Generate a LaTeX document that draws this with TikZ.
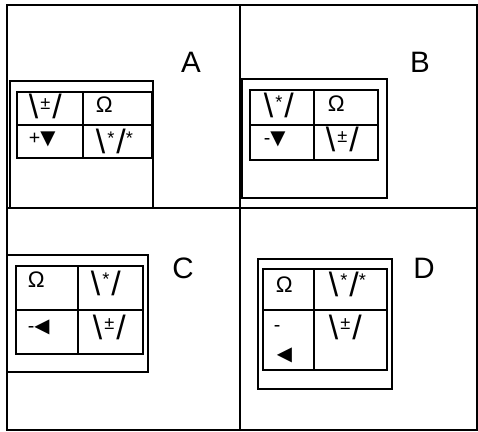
\documentclass[tikz,border=0pt]{standalone}
\usepackage{fontspec}
\setmainfont{Liberation Sans}
\newfontfamily\symfont{DejaVu Sans}
\newcommand{\wedgesym}[1]{{\fontsize{24}{24}\selectfont\textbackslash}\kern1.5pt\raisebox{6.5pt}{\fontsize{13}{13}\selectfont#1}\kern1.5pt{\fontsize{24}{24}\selectfont/}}
\newcommand{\tri}[1]{{\symfont\fontsize{14}{14}\selectfont#1}}

\begin{document}
\begin{tikzpicture}[x=0.025cm, y=-0.025cm, line width=1.1pt,
  cell/.style={anchor=base west, inner sep=0pt, font=\fontsize{14}{16}\selectfont},
  omega/.style={cell, font=\fontsize{16}{18}\selectfont},
  lbl/.style={inner sep=0pt, font=\fontsize{21}{21}\selectfont},
  frame/.style={line width=1.4pt}]
  \useasboundingbox (0,0) rectangle (478,432);
  % outer frame and cross
  \draw[frame] (7,5) rectangle (477,430);
  \draw[frame] (240,5) -- (240,430);
  \draw[frame] (7,208) -- (477,208);
  % (A)
  \draw (10,81) rectangle (153,208);
  \draw (17,92) rectangle (152,158);
  \draw (83,92) -- (83,158);
  \draw (17,125) -- (152,125);
  \node[cell] (a11) at (28,119) {\wedgesym{±}};
  \node[omega] (a12) at (95,113) {Ω};
  \node[cell] (a21) at (28,145) {+\tri{▼}};
  \node[cell] (a22) at (95,154) {\wedgesym{*}\raisebox{6.5pt}{\fontsize{13}{13}\selectfont*}};
  \node[lbl] (labA) at (191,62) {A};
  % (B)
  \draw (242,79) rectangle (387,198);
  \draw (250,90) rectangle (378,160);
  \draw (314,90) -- (314,160);
  \draw (250,125) -- (378,125);
  \node[cell] (b11) at (263,118) {\wedgesym{*}};
  \node[omega] (b12) at (327,112) {Ω};
  \node[cell] (b21) at (263,145) {-\tri{▼}};
  \node[cell] (b22) at (325,152) {\wedgesym{±}};
  \node[lbl] (labB) at (420,62) {B};
  % (C)
  \draw (7,255) rectangle (148,372);
  \draw (16,266) rectangle (143,354);
  \draw (78,266) -- (78,354);
  \draw (16,310) -- (143,310);
  \node[omega] (c11) at (27,287) {Ω};
  \node[cell] (c12) at (90,295) {\wedgesym{*}};
  \node[cell] (c21) at (27,332) {-\tri{◀}};
  \node[cell] (c22) at (92,339) {\wedgesym{±}};
  \node[lbl] (labC) at (183,268) {C};
  % (D)
  \draw (258,259) rectangle (392,389);
  \draw (263,269) rectangle (387,370);
  \draw (314,269) -- (314,370);
  \draw (263,310) -- (387,310);
  \node[omega] (d11) at (275,292) {Ω};
  \node[cell] (d12) at (328,296) {\wedgesym{*}\raisebox{6.5pt}{\fontsize{13}{13}\selectfont*}};
  \node[cell] (d21) at (273,331) {-};
  \node[cell] (d21b) at (276,360) {\tri{◀}};
  \node[cell] (d22) at (328,339) {\wedgesym{±}};
  \node[lbl] (labD) at (424,268) {D};
\end{tikzpicture}
\end{document}
